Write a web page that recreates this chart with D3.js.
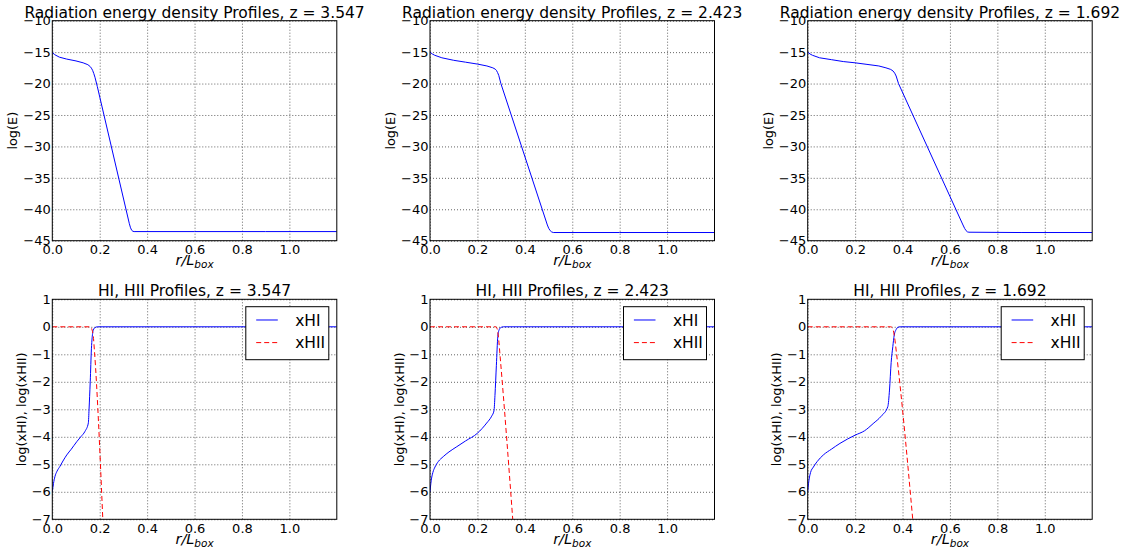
<!DOCTYPE html>
<html>
<head>
<meta charset="utf-8">
<script src="https://cdn.jsdelivr.net/npm/d3@7"></script>
<style>
body { margin: 0; background: #fff; }
svg { display: block; }
text { font-family: "DejaVu Sans", sans-serif; fill: #000; }
</style>
</head>
<body>
<div id="chart"></div>
<script>
// redshift of each column
var redshifts = ["3.547", "2.423", "1.692"];

// axis ticks
var xTicks = [0, 0.2, 0.4, 0.6, 0.8, 1.0];
var eTicks = [-45, -40, -35, -30, -25, -20, -15, -10];
var ionTicks = [-7, -6, -5, -4, -3, -2, -1, 0, 1];

// radiation energy density, log(E) against r/Lbox
var eR_a = [0, 0.01, 0.03, 0.06, 0.10, 0.13, 0.15, 0.16, 0.165, 0.17, 0.175, 0.18, 0.19, 0.325, 0.33, 0.335, 0.34, 0.345, 0.6, 0.9, 1.2];
var eLog_a = [-15.0, -15.4, -15.8, -16.1, -16.4, -16.7, -17.0, -17.3, -17.55, -17.9, -18.4, -19.0, -20.5, -42.3, -42.95, -43.35, -43.5, -43.55, -43.55, -43.55, -43.55];
var eR_b = [0, 0.01, 0.02, 0.05, 0.10, 0.15, 0.20, 0.24, 0.265, 0.275, 0.28, 0.285, 0.29, 0.299, 0.495, 0.501, 0.507, 0.513, 0.52, 0.8, 1.2];
var eLog_b = [-15.0, -15.3, -15.5, -15.9, -16.3, -16.6, -16.9, -17.2, -17.5, -17.7, -17.9, -18.25, -18.7, -20, -42.5, -43.05, -43.4, -43.6, -43.7, -43.7, -43.7];
var eR_c = [0, 0.01, 0.02, 0.05, 0.10, 0.15, 0.20, 0.25, 0.30, 0.33, 0.35, 0.36, 0.367, 0.373, 0.383, 0.655, 0.662, 0.668, 0.674, 0.68, 0.9, 1.2];
var eLog_c = [-15.0, -15.3, -15.5, -15.9, -16.2, -16.5, -16.7, -16.95, -17.2, -17.5, -17.75, -18.0, -18.35, -18.8, -20, -42.5, -43.05, -43.4, -43.6, -43.65, -43.7, -43.7];

// neutral fraction, log(xHI)
var hiR_a = [0, 0.005, 0.011, 0.02, 0.032, 0.045, 0.061, 0.08, 0.103, 0.12, 0.138, 0.152, 0.155, 0.16, 0.165, 0.168, 0.173, 0.18, 0.19, 1.2];
var hiLog_a = [-6.0, -5.7, -5.45, -5.25, -5.08, -4.88, -4.66, -4.45, -4.18, -4.0, -3.8, -3.5, -3.0, -2.0, -0.8, -0.4, -0.12, -0.03, 0, 0];
var hiR_b = [0, 0.005, 0.012, 0.021, 0.035, 0.056, 0.08, 0.113, 0.15, 0.2, 0.239, 0.26, 0.27, 0.274, 0.28, 0.286, 0.292, 0.3, 0.31, 1.2];
var hiLog_b = [-6.0, -5.6, -5.3, -5.1, -4.9, -4.72, -4.55, -4.36, -4.15, -3.87, -3.5, -3.25, -3.05, -2.5, -1.4, -0.36, -0.1, -0.02, 0, 0];
var hiR_c = [0, 0.005, 0.012, 0.024, 0.04, 0.066, 0.1, 0.136, 0.2, 0.24, 0.276, 0.31, 0.338, 0.345, 0.352, 0.359, 0.365, 0.373, 0.38, 0.39, 1.2];
var hiLog_c = [-6.0, -5.6, -5.3, -5.1, -4.9, -4.66, -4.45, -4.24, -3.94, -3.78, -3.52, -3.25, -2.9, -2.3, -1.3, -0.72, -0.3, -0.1, -0.02, 0, 0];

// ionised fraction, log(xHII)
var hiiR_a = [0, 0.155, 0.162, 0.168, 0.173, 0.178, 0.213];
var hiiLog_a = [0, 0, -0.02, -0.12, -0.35, -0.9, -7.0];
var hiiR_b = [0, 0.278, 0.284, 0.29, 0.296, 0.349];
var hiiLog_b = [0, 0, -0.1, -0.5, -1.1, -7.0];
var hiiR_c = [0, 0.35, 0.358, 0.366, 0.375, 0.443];
var hiiLog_c = [0, 0, -0.05, -0.36, -1.0, -7.0];

var energy = [[eR_a, eLog_a], [eR_b, eLog_b], [eR_c, eLog_c]];
var neutral = [[hiR_a, hiLog_a], [hiR_b, hiLog_b], [hiR_c, hiLog_c]];
var ionised = [[hiiR_a, hiiLog_a], [hiiR_b, hiiLog_b], [hiiR_c, hiiLog_c]];

var W = 1128, H = 554;
var panelW = 284.5, panelH = 220;
var lefts = [52.3, 430, 807.7];
var tops = [20.7, 299.3];

var svg = d3.select("#chart").append("svg")
    .attr("width", W)
    .attr("height", H);

var x = d3.scaleLinear().domain([0, 1.2]).range([0, panelW]);
var yE = d3.scaleLinear().domain([-45, -10]).range([panelH, 0]);
var yIon = d3.scaleLinear().domain([-7, 1]).range([panelH, 0]);

function toPoints(s) {
    return s[0].map(function(r, i) { return [r, s[1][i]]; });
}

function drawPanel(col, row, y, yTicks, title, ylabel, ylabelX, series, legend, curve) {
    var g = svg.append("g")
        .attr("transform", "translate(" + lefts[col] + "," + tops[row] + ")");
    var clipId = "clip" + row + "" + col;
    g.append("clipPath").attr("id", clipId)
        .append("rect").attr("width", panelW).attr("height", panelH);

    // dotted grid
    var gx = g.append("g")
        .call(d3.axisBottom(x).tickValues(xTicks).tickSize(panelH).tickFormat(""));
    var gy = g.append("g")
        .call(d3.axisLeft(y).tickValues(yTicks).tickSize(-panelW).tickFormat(""));
    [gx, gy].forEach(function(a) {
        a.select(".domain").remove();
        a.selectAll(".tick line")
            .attr("stroke", "#222")
            .attr("stroke-width", 0.7)
            .attr("stroke-dasharray", "1,2");
    });

    // tick labels
    var ax = g.append("g")
        .attr("transform", "translate(0," + panelH + ")")
        .call(d3.axisBottom(x).tickValues(xTicks).tickSize(0).tickPadding(4.5).tickFormat(d3.format(".1f")));
    var ay = g.append("g")
        .call(d3.axisLeft(y).tickValues(yTicks).tickSize(0).tickPadding(1.5).tickFormat(d3.format("d")));
    [ax, ay].forEach(function(a) {
        a.select(".domain").remove();
        a.selectAll("text")
            .attr("font-family", "DejaVu Sans")
            .attr("font-size", 13)
            .attr("fill", "#000");
    });

    // curves
    var line = d3.line()
        .curve(curve)
        .x(function(d) { return x(d[0]); })
        .y(function(d) { return y(d[1]); });
    var lines = g.append("g").attr("clip-path", "url(#" + clipId + ")");
    series.forEach(function(s) {
        lines.append("path")
            .datum(toPoints(s.data))
            .attr("fill", "none")
            .attr("stroke", s.color)
            .attr("stroke-width", 1)
            .attr("stroke-dasharray", s.dash)
            .attr("d", line);
    });

    // frame
    g.append("rect")
        .attr("width", panelW)
        .attr("height", panelH)
        .attr("fill", "none")
        .attr("stroke", "#000")
        .attr("stroke-width", 1);

    // title
    g.append("text")
        .attr("x", panelW / 2)
        .attr("y", -3)
        .attr("text-anchor", "middle")
        .attr("font-size", 15.5)
        .text(title);

    // y label
    g.append("text")
        .attr("transform", "translate(" + ylabelX + "," + (panelH / 2) + ") rotate(-90)")
        .attr("text-anchor", "middle")
        .attr("font-size", 12.9)
        .text(ylabel);

    // x label r/L_box
    var xl = g.append("text")
        .attr("x", panelW / 2)
        .attr("y", panelH + 24.5)
        .attr("text-anchor", "middle")
        .attr("font-family", "Liberation Serif")
        .attr("font-style", "italic")
        .attr("font-size", 14.5)
        .attr("fill", "#333");
    xl.append("tspan").text("r/L");
    xl.append("tspan").attr("dy", 3).attr("font-size", 10.5).text("box");

    if (legend) {
        var lw = 83, lh = 53;
        var lg = g.append("g")
            .attr("transform", "translate(" + (panelW - 8 - lw) + ",7.4)");
        lg.append("rect")
            .attr("width", lw)
            .attr("height", lh)
            .attr("fill", "#fff")
            .attr("stroke", "#000")
            .attr("stroke-width", 1);
        series.forEach(function(s, i) {
            var yy = 13.3 + i * 22.6;
            lg.append("line")
                .attr("x1", 10.4).attr("x2", 32)
                .attr("y1", yy).attr("y2", yy)
                .attr("stroke", s.color)
                .attr("stroke-width", 1)
                .attr("stroke-dasharray", s.dash);
            lg.append("text")
                .attr("x", 49.4)
                .attr("y", yy)
                .attr("dy", "0.36em")
                .attr("font-size", 15.5)
                .text(s.name);
        });
    }
}

redshifts.forEach(function(z, i) {
    drawPanel(i, 0, yE, eTicks,
        "Radiation energy density Profiles, z = " + z, "log(E)", -35,
        [{ name: "E", data: energy[i], color: "#0000ff", dash: null }], false, d3.curveLinear);
    drawPanel(i, 1, yIon, ionTicks,
        "HI, HII Profiles, z = " + z, "log(xHI), log(xHII)", -26.5,
        [{ name: "xHI", data: neutral[i], color: "#0000ff", dash: null },
         { name: "xHII", data: ionised[i], color: "#ff0000", dash: "5,3" }], true, d3.curveMonotoneX);
});
</script>
</body>
</html>
